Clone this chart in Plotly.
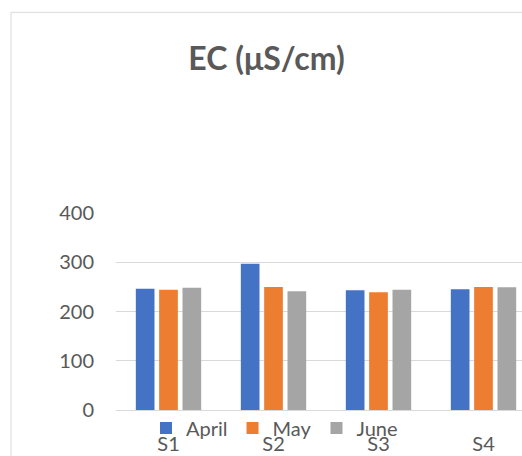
import plotly.graph_objects as go

categories = ["S1", "S2", "S3", "S4"]
april = [246, 297, 243, 245]
may = [244, 250, 239, 250]
june = [248, 241, 244, 249]
series_names = ["April", "May", "June"]
colors = ["#4472C4", "#ED7D31", "#A5A5A5"]
y_ticks = [0, 100, 200, 300, 400]

FONT = "Lato"
GRAY = "#595959"

fig = go.Figure()
for name, vals, col in zip(series_names, [april, may, june], colors):
    fig.add_trace(go.Bar(x=categories, y=vals, name=name,
                         marker=dict(color=col, line=dict(width=0))))

W, H = 522, 456
plot_left, plot_right = 116, 522
plot_top, plot_bottom = 213, 410.3
cat_w = 105.0
x_max = -0.5 + (plot_right - plot_left) / cat_w

fig.update_layout(
    width=W, height=H,
    margin=dict(l=plot_left, r=W - plot_right, t=plot_top, b=H - plot_bottom, autoexpand=False),
    paper_bgcolor="white", plot_bgcolor="white",
    font=dict(family=FONT, color=GRAY, size=20),
    barmode="group", bargap=0.333, bargroupgap=0.2,
    title=dict(text="<b>EC (μS/cm)</b>", font=dict(family=FONT, size=32, color=GRAY),
               xref="container", yref="container", x=266.5 / W, xanchor="center",
               y=1 - 59 / H, yanchor="middle"),
    showlegend=True,
    legend=dict(orientation="h", xref="container", yref="container",
                x=146 / W, xanchor="left", y=1 - 428 / H, yanchor="middle",
                font=dict(family=FONT, size=20, color=GRAY),
                bgcolor="rgba(0,0,0,0)", itemwidth=30, traceorder="normal"),
    xaxis=dict(range=[-0.5, x_max], showgrid=False, showline=False, zeroline=False,
               ticks="", tickfont=dict(family=FONT, size=20, color=GRAY),
               ticklabelstandoff=20, fixedrange=True),
    yaxis=dict(range=[0, 400], tickvals=y_ticks, showgrid=True, gridcolor="#D9D9D9",
               gridwidth=1, zeroline=True, zerolinecolor="#D9D9D9", zerolinewidth=1,
               showline=False, ticks="", tickfont=dict(family=FONT, size=20, color=GRAY),
               ticklabelstandoff=21, fixedrange=True),
    shapes=[dict(type="rect", xref="paper", yref="paper",
                 x0=(11 - plot_left) / (plot_right - plot_left), x1=1.2,
                 y0=-0.5, y1=(plot_bottom - 12) / (plot_bottom - plot_top),
                 line=dict(color="#D9D9D9", width=1), fillcolor="rgba(0,0,0,0)", layer="below")],
)

fig.write_html("out.html", config={"displayModeBar": False},
               post_script="document.body.style.margin='0';document.body.style.overflow='hidden';")
